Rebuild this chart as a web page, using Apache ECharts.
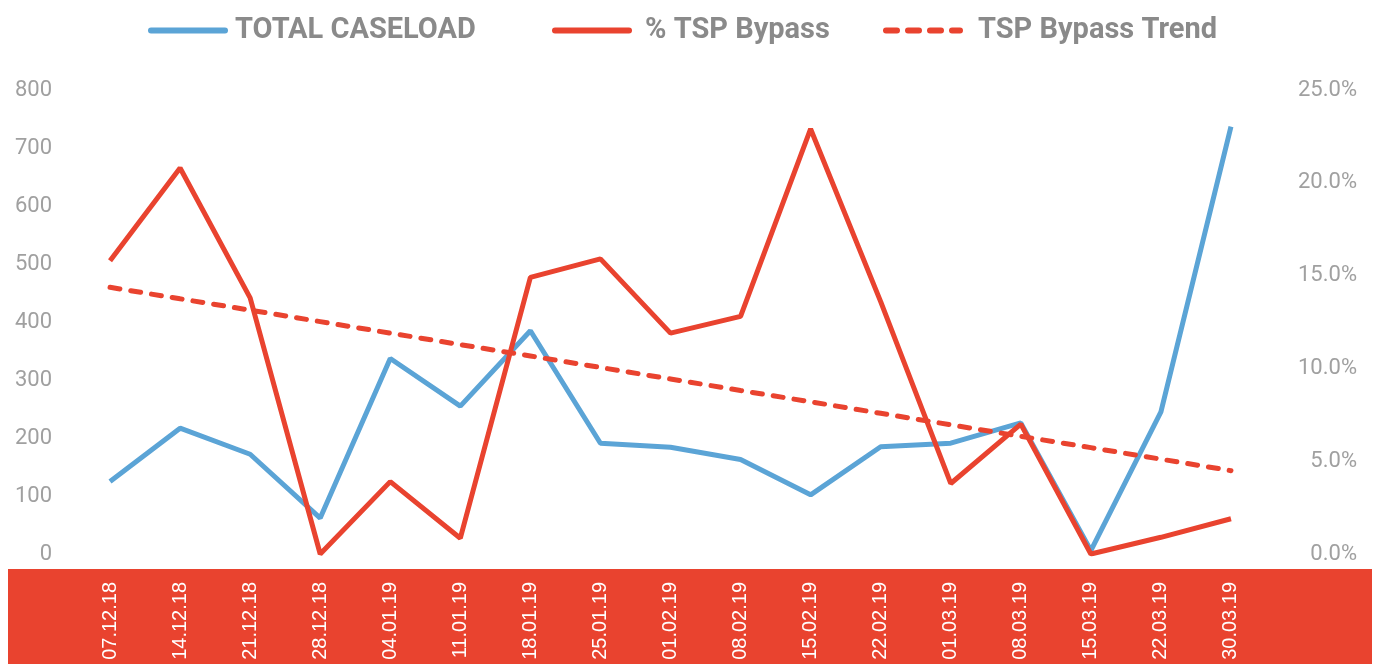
<!DOCTYPE html>
<html>
<head>
<meta charset="utf-8">
<script src="https://cdn.jsdelivr.net/npm/echarts@6/dist/echarts.min.js"></script>
<style>
  html, body { margin: 0; padding: 0; background: #fff; }
  #chart { width: 1379px; height: 664px; }
</style>
</head>
<body>
<div id="chart"></div>
<script>
var weeks = ['07.12.18', '14.12.18', '21.12.18', '28.12.18', '04.01.19', '11.01.19', '18.01.19',
    '25.01.19', '01.02.19', '08.02.19', '15.02.19', '22.02.19', '01.03.19', '08.03.19',
    '15.03.19', '22.03.19', '30.03.19'];
var caseload = [125, 217, 172, 62, 337, 255, 385, 191, 184, 163, 102, 185, 191, 226, 6, 245, 737];
var bypassPct = [15.8, 20.8, 13.8, 0, 3.9, 0.85, 14.9, 15.9, 11.9, 12.8, 22.9, 13.6, 3.8, 7.0, 0, 0.9, 1.9];
var trendPct = [14.37, 13.75, 13.14, 12.52, 11.9, 11.28, 10.67, 10.05, 9.43, 8.81, 8.2, 7.58, 6.96, 6.34, 5.73, 5.11, 4.49];

var blue = '#5ba4d6';
var red = '#e9432f';
var grey = '#a0a0a0';

var solidIcon = 'path://M3,0 h74 a3,3 0 0 1 0,6 h-74 a3,3 0 0 1 0,-6 z';
var dashIcon = 'path://M3,0 h11 a3,3 0 0 1 0,6 h-11 a3,3 0 0 1 0,-6 z' +
    ' M25,0 h11 a3,3 0 0 1 0,6 h-11 a3,3 0 0 1 0,-6 z' +
    ' M47,0 h11 a3,3 0 0 1 0,6 h-11 a3,3 0 0 1 0,-6 z' +
    ' M69,0 h8 a3,3 0 0 1 0,6 h-8 a3,3 0 0 1 0,-6 z';

function makeLegend(name, left, icon, textGap) {
    return {
        top: 16,
        left: left,
        padding: 0,
        itemWidth: 80,
        itemHeight: 6,
        itemGap: 0,
        textStyle: { color: '#8a8a8a', fontSize: 29, fontWeight: 'bold', fontFamily: 'Roboto', padding: [0, 0, 0, textGap] },
        data: [{ name: name, icon: icon }]
    };
}

var chart = echarts.init(document.getElementById('chart'));

var option = {
    animation: false,
    graphic: [{
        type: 'rect',
        z: -1,
        shape: { x: 8, y: 569, width: 1364, height: 95 },
        style: { fill: red }
    }],
    legend: [
        makeLegend('TOTAL CASELOAD', 148, solidIcon, 2),
        makeLegend('% TSP Bypass', 552, solidIcon, 8),
        makeLegend('TSP Bypass Trend', 883, dashIcon, 10)
    ],
    grid: { left: 75, right: 113, top: 90, bottom: 110 },
    xAxis: {
        type: 'category',
        data: weeks,
        axisLine: { show: false },
        axisTick: { show: false },
        axisLabel: {
            rotate: 90,
            margin: 28,
            color: '#fff',
            fontSize: 20,
            fontFamily: 'Liberation Sans',
            interval: 0
        }
    },
    yAxis: [{
        type: 'value',
        min: 0, max: 800, interval: 100,
        splitLine: { show: false },
        axisLine: { show: false },
        axisTick: { show: false },
        axisLabel: { color: grey, fontSize: 22, fontFamily: 'Roboto', margin: 23 }
    }, {
        type: 'value',
        min: 0, max: 25, interval: 5,
        splitLine: { show: false },
        axisLine: { show: false },
        axisTick: { show: false },
        axisLabel: {
            color: grey, fontSize: 22, fontFamily: 'Roboto', margin: 91, align: 'right',
            formatter: function (v) { return v.toFixed(1) + '%'; }
        }
    }],
    series: [{
        name: 'TOTAL CASELOAD',
        type: 'line',
        data: caseload,
        symbol: 'none',
        itemStyle: { color: blue },
        lineStyle: { color: blue, width: 5 }
    }, {
        name: '% TSP Bypass',
        type: 'line',
        yAxisIndex: 1,
        data: bypassPct,
        symbol: 'none',
        itemStyle: { color: red },
        lineStyle: { color: red, width: 5 }
    }, {
        name: 'TSP Bypass Trend',
        type: 'line',
        yAxisIndex: 1,
        data: trendPct,
        symbol: 'none',
        itemStyle: { color: red },
        lineStyle: { color: red, width: 5, type: [10, 11], cap: 'round' }
    }]
};

chart.setOption(option);
</script>
</body>
</html>
